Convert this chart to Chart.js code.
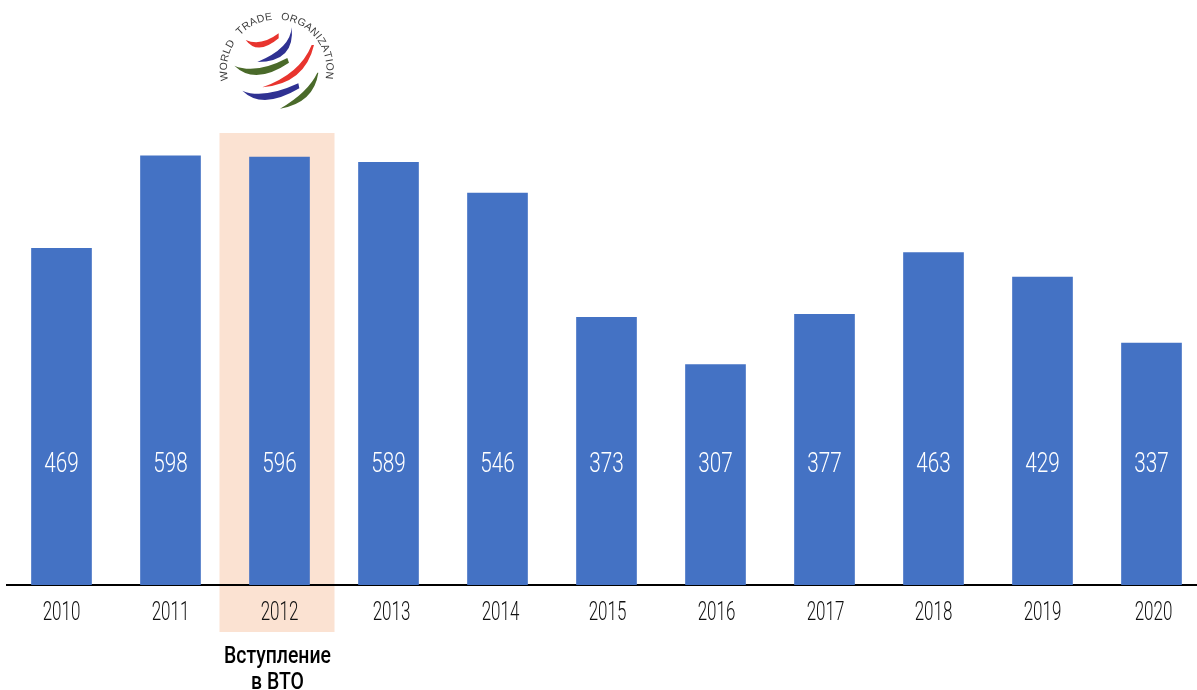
<!DOCTYPE html>
<html>
<head>
<meta charset="utf-8">
<script src="https://cdn.jsdelivr.net/npm/chart.js@4"></script>
<style>
  html, body { margin: 0; padding: 0; background: #fff; overflow: hidden; }
  #wrap { width: 1197px; height: 690px; overflow: hidden; }
</style>
</head>
<body>
<div id="wrap"><canvas id="myChart" width="1206" height="690"></canvas></div>
<script>
const years = ['2010', '2011', '2012', '2013', '2014', '2015', '2016', '2017', '2018', '2019', '2020'];
const values = [469, 598, 596, 589, 546, 373, 307, 377, 463, 429, 337];
const highlightYear = '2012';
const noteLines = ['Вступление', 'в ВТО'];
const logoText = 'WORLD TRADE ORGANIZATION';

const face = 'Roboto, "Liberation Sans", sans-serif';

// the reference face is much narrower than anything installed, so squeeze it
function squeezed(ctx, text, x, y, size, sx, color, weight) {
  ctx.save();
  ctx.translate(x, y);
  ctx.scale(sx, 1);
  ctx.font = (weight || 300) + ' ' + size + 'px ' + face;
  ctx.fillStyle = color;
  ctx.textAlign = 'center';
  ctx.textBaseline = 'middle';
  ctx.fillText(text, 0, 0);
  ctx.restore();
}

const highlight = {
  id: 'highlight',
  beforeDraw(chart) {
    const x = chart.scales.x.getPixelForValue(years.indexOf(highlightYear));
    chart.ctx.fillStyle = '#fbe2d2';
    chart.ctx.fillRect(x - 60, 133, 115, 499);
  }
};

// the year labels sit a little off their bars on the right side
const yearNudge = [0, 0, 0, 3, 3, 1, 1, 1, 0, 0, 2];

const barLabels = {
  id: 'barLabels',
  afterDraw(chart) {
    const ctx = chart.ctx;
    const sx = chart.scales.x;
    const y = chart.scales.y.getPixelForValue(170);
    values.forEach((v, i) => {
      squeezed(ctx, String(v), sx.getPixelForValue(i), y + 2, 28, 0.74, '#ffffff');
      squeezed(ctx, years[i], sx.getPixelForValue(i) + yearNudge[i], 614, 25, 0.68, '#111111');
    });
    const hx = sx.getPixelForValue(years.indexOf(highlightYear)) - 2;
    squeezed(ctx, noteLines[0], hx, 657, 24, 0.81, '#000000', 500);
    squeezed(ctx, noteLines[1], hx, 683, 24, 0.81, '#000000', 500);
  }
};

function swoosh(ctx, color, p) {
  ctx.fillStyle = color;
  ctx.beginPath();
  ctx.moveTo(p[0], p[1]);
  ctx.quadraticCurveTo(p[2], p[3], p[4], p[5]);
  ctx.lineTo(p[6], p[7]);
  ctx.quadraticCurveTo(p[8], p[9], p[0], p[1]);
  ctx.closePath();
  ctx.fill();
}

const logo = {
  id: 'logo',
  afterDraw(chart) {
    const ctx = chart.ctx;
    ctx.save();
    ctx.translate(200, 0);
    ctx.scale(1 / 3, 1 / 3);
    swoosh(ctx, '#e8342e', [137, 120, 173, 168, 236, 115, 236, 100, 183, 140]);
    swoosh(ctx, '#2f3192', [172, 186, 286, 186, 275, 82, 275, 82, 272, 145]);
    swoosh(ctx, '#4a6a2a', [103, 197, 165, 257, 267, 188, 262, 174, 167, 224]);
    swoosh(ctx, '#e8342e', [187, 262, 315, 251, 342, 135, 335, 135, 300, 222]);
    swoosh(ctx, '#2f3192', [127, 272, 187, 331, 298, 265, 295, 250, 189, 299]);
    swoosh(ctx, '#4a6a2a', [240, 326, 342, 308, 355, 218, 352, 218, 324, 277]);
    ctx.restore();

    // letters along the arc, the word gaps are wide in the logo
    ctx.save();
    ctx.font = '10.5px "Liberation Sans", sans-serif';
    ctx.fillStyle = '#3c3c3c';
    ctx.textAlign = 'center';
    ctx.textBaseline = 'middle';
    const cx = 276.7, cy = 69.3, r = 52.7;
    const from = -103 * Math.PI / 180, to = 101 * Math.PI / 180;
    const chars = [...logoText];
    const widths = chars.map(c => c === ' ' ? 9 : ctx.measureText(c).width + 1.1);
    const total = widths.reduce((a, b) => a + b, 0);
    let run = 0;
    chars.forEach((c, i) => {
      const a = from + (to - from) * (run + widths[i] / 2) / total;
      run += widths[i];
      ctx.save();
      ctx.translate(cx + r * Math.sin(a), cy - r * Math.cos(a));
      ctx.rotate(a);
      ctx.fillText(c, 0, 0);
      ctx.restore();
    });
    ctx.restore();
  }
};

new Chart(document.getElementById('myChart'), {
  type: 'bar',
  data: {
    labels: years,
    datasets: [{
      data: values,
      backgroundColor: '#4472c4',
      borderWidth: 0,
      barThickness: 60
    }]
  },
  options: {
    responsive: false,
    animation: false,
    // canvas runs 9px past the window: the last band is cut like in the reference
    layout: { padding: { left: 7, right: 0, top: 0, bottom: 0 } },
    plugins: { legend: { display: false }, tooltip: { enabled: false } },
    scales: {
      x: {
        grid: { display: false },
        border: { color: '#000000', width: 2 },
        ticks: { display: false },
        afterFit(s) { s.height = 105; }
      },
      y: {
        display: false,
        min: 0,
        max: 815
      }
    }
  },
  plugins: [highlight, barLabels, logo]
});
</script>
</body>
</html>
